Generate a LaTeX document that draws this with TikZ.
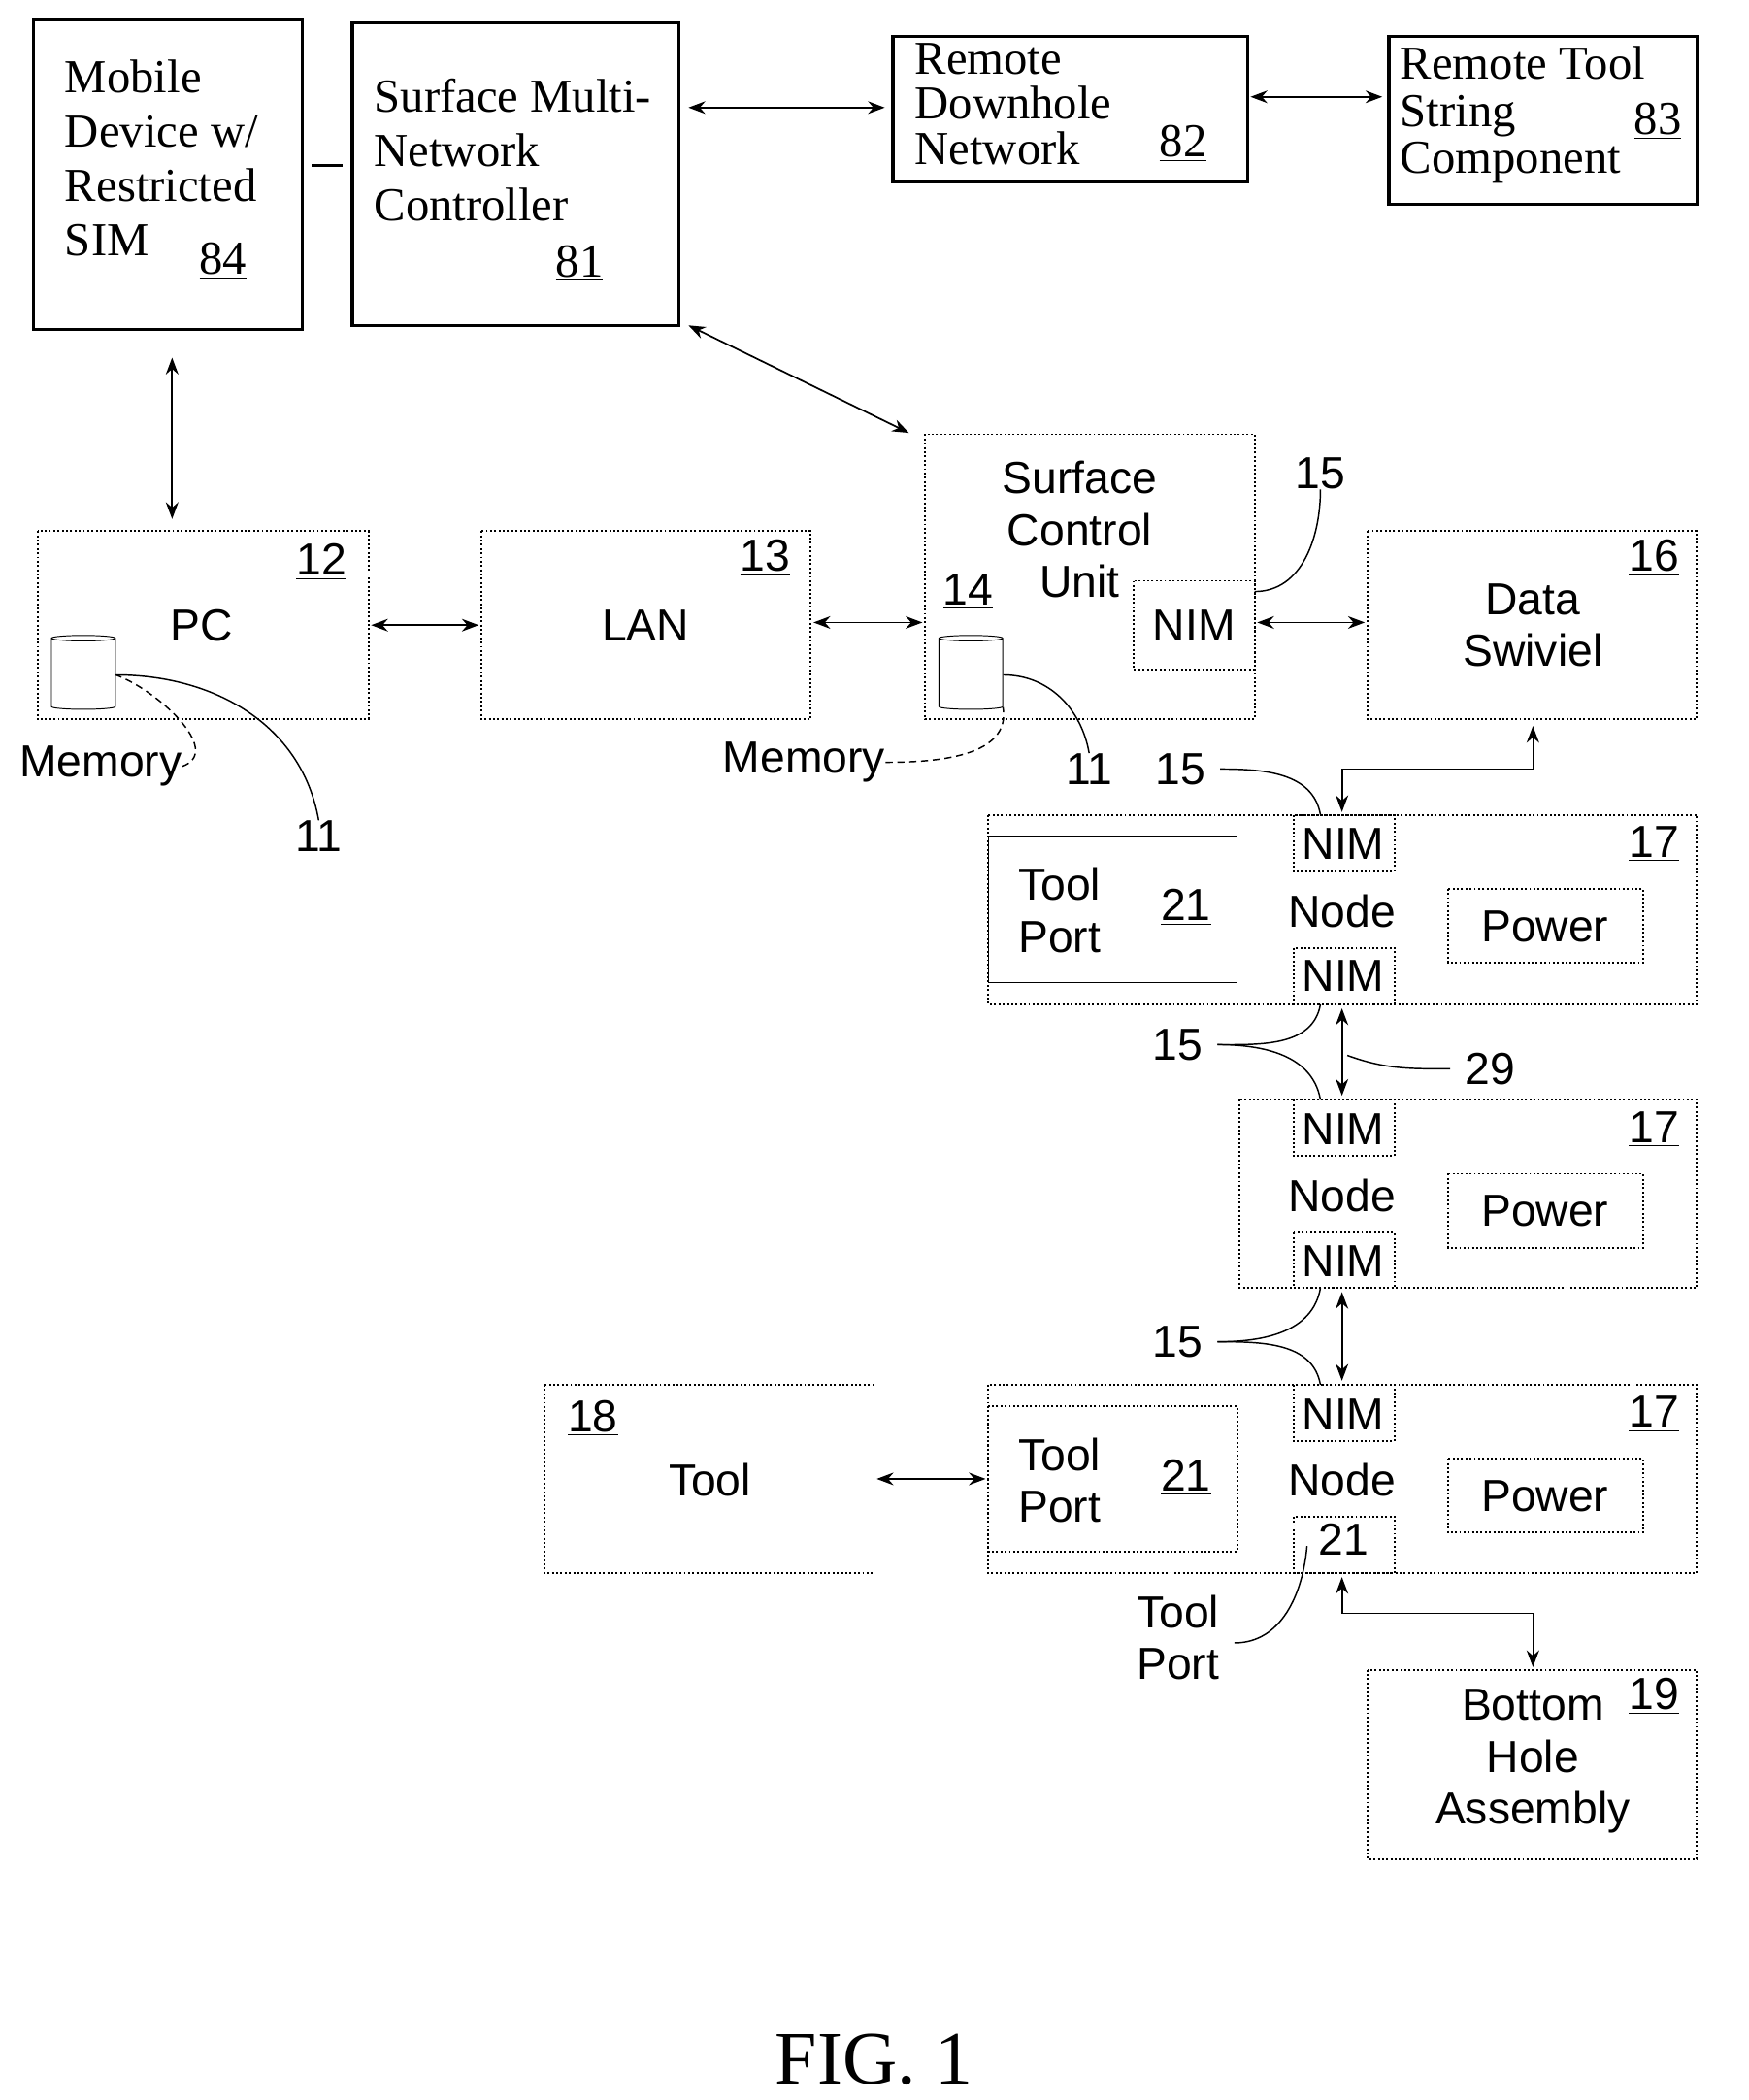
\documentclass[tikz,border=0pt]{standalone}
\usepackage{fontspec}
\setmainfont{Liberation Serif}
\setsansfont{Liberation Sans}
\usetikzlibrary{arrows.meta}
\usetikzlibrary{positioning}
\usetikzlibrary{shapes.geometric}

\begin{document}
\begin{tikzpicture}[
        x=0.02cm,
        y=-0.02cm,
        sblock/.style={
            draw,
            line width=1.4pt
        },
        block/.style={
            draw,
            densely dotted,
            line width=0.8pt
        },
        inner/.style={
            draw,
            line width=0.6pt
        },
        lbl/.style={
            font=\sffamily\fontsize{19}{22}\selectfont,
            align=center,
            inner sep=0pt
        },
        slbl/.style={
            font=\rmfamily\fontsize{20}{23}\selectfont,
            align=left,
            inner sep=0pt,
            anchor=north west
        },
        num/.style={
            font=\sffamily\fontsize{19}{22}\selectfont,
            inner sep=0pt
        },
        line/.style={
            draw,
            {Stealth[length=2.5mm]}-{Stealth[length=2.5mm]},
            line width=0.7pt
        },
        lead/.style={
            draw,
            line width=0.6pt
        },
        mem/.style={
            cylinder,
            shape border rotate=90,
            aspect=0.35,
            draw,
            minimum width=0.95cm,
            minimum height=1.1cm
        },
        ]

        \useasboundingbox (0,0) rectangle (1300,1562);

        % top row
        \draw [sblock] (25,15) rectangle (225,245);
        \node [slbl] (mobile) at (48,44) {Mobile\\Device w/\\Restricted\\SIM};
        \node [slbl] (n84) at (148,180) {\underline{84}};
        \draw [sblock] (262,17) rectangle (505,242);
        \node [slbl] (smnc) at (278,58) {Surface Multi-\\Network\\Controller};
        \node [slbl] (n81) at (413,182) {\underline{81}};
        \draw [sblock] (664,27) rectangle (928,135);
        \node [slbl,font=\rmfamily\fontsize{20}{19}\selectfont] (rdn) at (680,32) {Remote\\Downhole\\Network};
        \node [slbl] (n82) at (862,93) {\underline{82}};
        \draw [sblock] (1033,27) rectangle (1262,152);
        \node [slbl,font=\rmfamily\fontsize{20}{20}\selectfont] (rts) at (1041,34) {Remote Tool\\String\\Component};
        \node [slbl] (n83) at (1215,76) {\underline{83}};

        \coordinate (m-r) at (232,123);
        \coordinate (s-l) at (255,123);
        \draw [line width=1pt] (m-r) -- (s-l);
        \coordinate (s-r) at (512,80);
        \coordinate (r-l) at (658,80);
        \path [line] (s-r) -- (r-l);
        \coordinate (r-r) at (930,72);
        \coordinate (t-l) at (1028,72);
        \path [line] (r-r) -- (t-l);
        \coordinate (m-b) at (128,266);
        \coordinate (pc-t) at (128,386);
        \path [line] (m-b) -- (pc-t);
        \coordinate (s-b) at (512,242);
        \coordinate (scu-t) at (676,322);
        \path [line] (s-b) -- (scu-t);

        % surface row
        \draw [block] (28,395) rectangle (274,535);
        \node [lbl] (pc) at (150,465) {PC};
        \node [num] (n12) at (239,418) {\underline{12}};
        \node [mem] (mem-pc) at (62,502) {};
        \draw [block] (358,395) rectangle (603,535);
        \node [lbl] (lan) at (480,465) {LAN};
        \node [num] (n13) at (569,415) {\underline{13}};
        \draw [block] (688,323) rectangle (933,535);
        \node [lbl] (scu) at (803,394) {Surface\\Control\\Unit};
        \draw [block] (843,432) rectangle (933,498);
        \node [lbl] (nim0) at (888,465) {NIM};
        \node [num] (n14) at (720,440) {\underline{14}};
        \node [mem] (mem-scu) at (722,502) {};
        \draw [block] (1017,395) rectangle (1262,535);
        \node [lbl] (swivel) at (1140,465) {Data\\Swiviel};
        \node [num] (n16) at (1230,415) {\underline{16}};

        \path [line] (276,465) -- (356,465);
        \path [line] (605,463) -- (686,463);
        \path [line] (935,463) -- (1015,463);

        % memory leaders
        \node [num] (memory1) at (75,570) {Memory};
        \node [num] (n11a) at (237,622) {11};
        \node [num] (memory2) at (598,567) {Memory};
        \node [num] (n11b) at (810,572) {11};
        \node [num] (n15a) at (982,352) {15};
        \draw [lead,densely dashed] (memory1.east) to[out=20,in=-20] (mem-pc.east);
        \draw [lead] (n11a.north) to[out=100,in=0] (mem-pc.east);
        \draw [lead,densely dashed] (memory2.east) to[out=0,in=-80] (mem-scu.south east);
        \draw [lead] (n11b.north) to[out=100,in=0] (mem-scu.east);
        \draw [lead] (n15a.south) to[out=-90,in=0] (933,440);

        % node 1
        \draw [block] (735,606) rectangle (1262,747);
        \draw [inner] (735,622) rectangle (920,731);
        \node [lbl,align=left] (tp1) at (788,677) {Tool\\Port};
        \node [num] (n21a) at (882,675) {\underline{21}};
        \draw [block] (962,606) rectangle (1037,648);
        \node [lbl] (nim1a) at (999,628) {NIM};
        \draw [block] (962,705) rectangle (1037,747);
        \node [lbl] (nim1b) at (999,726) {NIM};
        \node [lbl] (node1) at (998,678) {Node};
        \draw [block] (1077,661) rectangle (1222,716);
        \node [lbl] (pow1) at (1149,689) {Power};
        \node [num] (n17a) at (1230,628) {\underline{17}};

        % node 2
        \draw [block] (922,818) rectangle (1262,958);
        \draw [block] (962,818) rectangle (1037,860);
        \node [lbl] (nim2a) at (999,840) {NIM};
        \draw [block] (962,917) rectangle (1037,958);
        \node [lbl] (nim2b) at (999,938) {NIM};
        \node [lbl] (node2) at (998,889) {Node};
        \draw [block] (1077,873) rectangle (1222,928);
        \node [lbl] (pow2) at (1149,901) {Power};
        \node [num] (n17b) at (1230,840) {\underline{17}};

        % node 3
        \draw [block] (735,1030) rectangle (1262,1170);
        \draw [block] (735,1046) rectangle (920,1154);
        \node [lbl,align=left] (tp3) at (788,1101) {Tool\\Port};
        \node [num] (n21b) at (882,1099) {\underline{21}};
        \draw [block] (962,1030) rectangle (1037,1072);
        \node [lbl] (nim3) at (999,1052) {NIM};
        \draw [block] (962,1128) rectangle (1037,1170);
        \node [lbl] (n21c) at (999,1147) {\underline{21}};
        \node [lbl] (node3) at (998,1101) {Node};
        \draw [block] (1077,1085) rectangle (1222,1140);
        \node [lbl] (pow3) at (1149,1113) {Power};
        \node [num] (n17c) at (1230,1052) {\underline{17}};

        \draw [block] (405,1030) rectangle (650,1170);
        \node [lbl] (tool) at (528,1101) {Tool};
        \node [num] (n18) at (441,1055) {\underline{18}};
        \draw [block] (1017,1242) rectangle (1262,1383);
        \node [lbl] (bha) at (1140,1310) {Bottom\\Hole\\Assembly};
        \node [num] (n19) at (1230,1262) {\underline{19}};

        % connectors in the string
        \path [line] (1140,540) |- (998,572) -- (998,604);
        \path [line] (998,750) -- (998,815);
        \path [line] (998,961) -- (998,1027);
        \path [line] (652,1100) -- (733,1100);
        \path [line] (998,1173) |- (1140,1200) -- (1140,1240);

        % leaders
        \node [num] (n15b) at (878,572) {15};
        \node [num] (n15c) at (876,777) {15};
        \node [num] (n29) at (1108,795) {29};
        \node [num] (n15d) at (876,998) {15};
        \node [lbl,align=left] (tp4) at (876,1218) {Tool\\Port};
        \draw [lead] ([xshift=6]n15b.east) to[out=0,in=100] (982,606);
        \draw [lead] ([xshift=6]n15c.east) to[out=0,in=-100] (982,747);
        \draw [lead] ([xshift=6]n15c.east) to[out=0,in=100] (982,818);
        \draw [lead] ([xshift=-6]n29.west) to[out=180,in=-20] (1002,785);
        \draw [lead] ([xshift=6]n15d.east) to[out=0,in=-100] (982,958);
        \draw [lead] ([xshift=6]n15d.east) to[out=0,in=100] (982,1030);
        \draw [lead] (918,1222) to[out=0,in=-95] (972,1150);

        \node [font=\rmfamily\fontsize{32}{32}\selectfont] (fig) at (650,1532) {FIG. 1};
    \end{tikzpicture}
\end{document}
